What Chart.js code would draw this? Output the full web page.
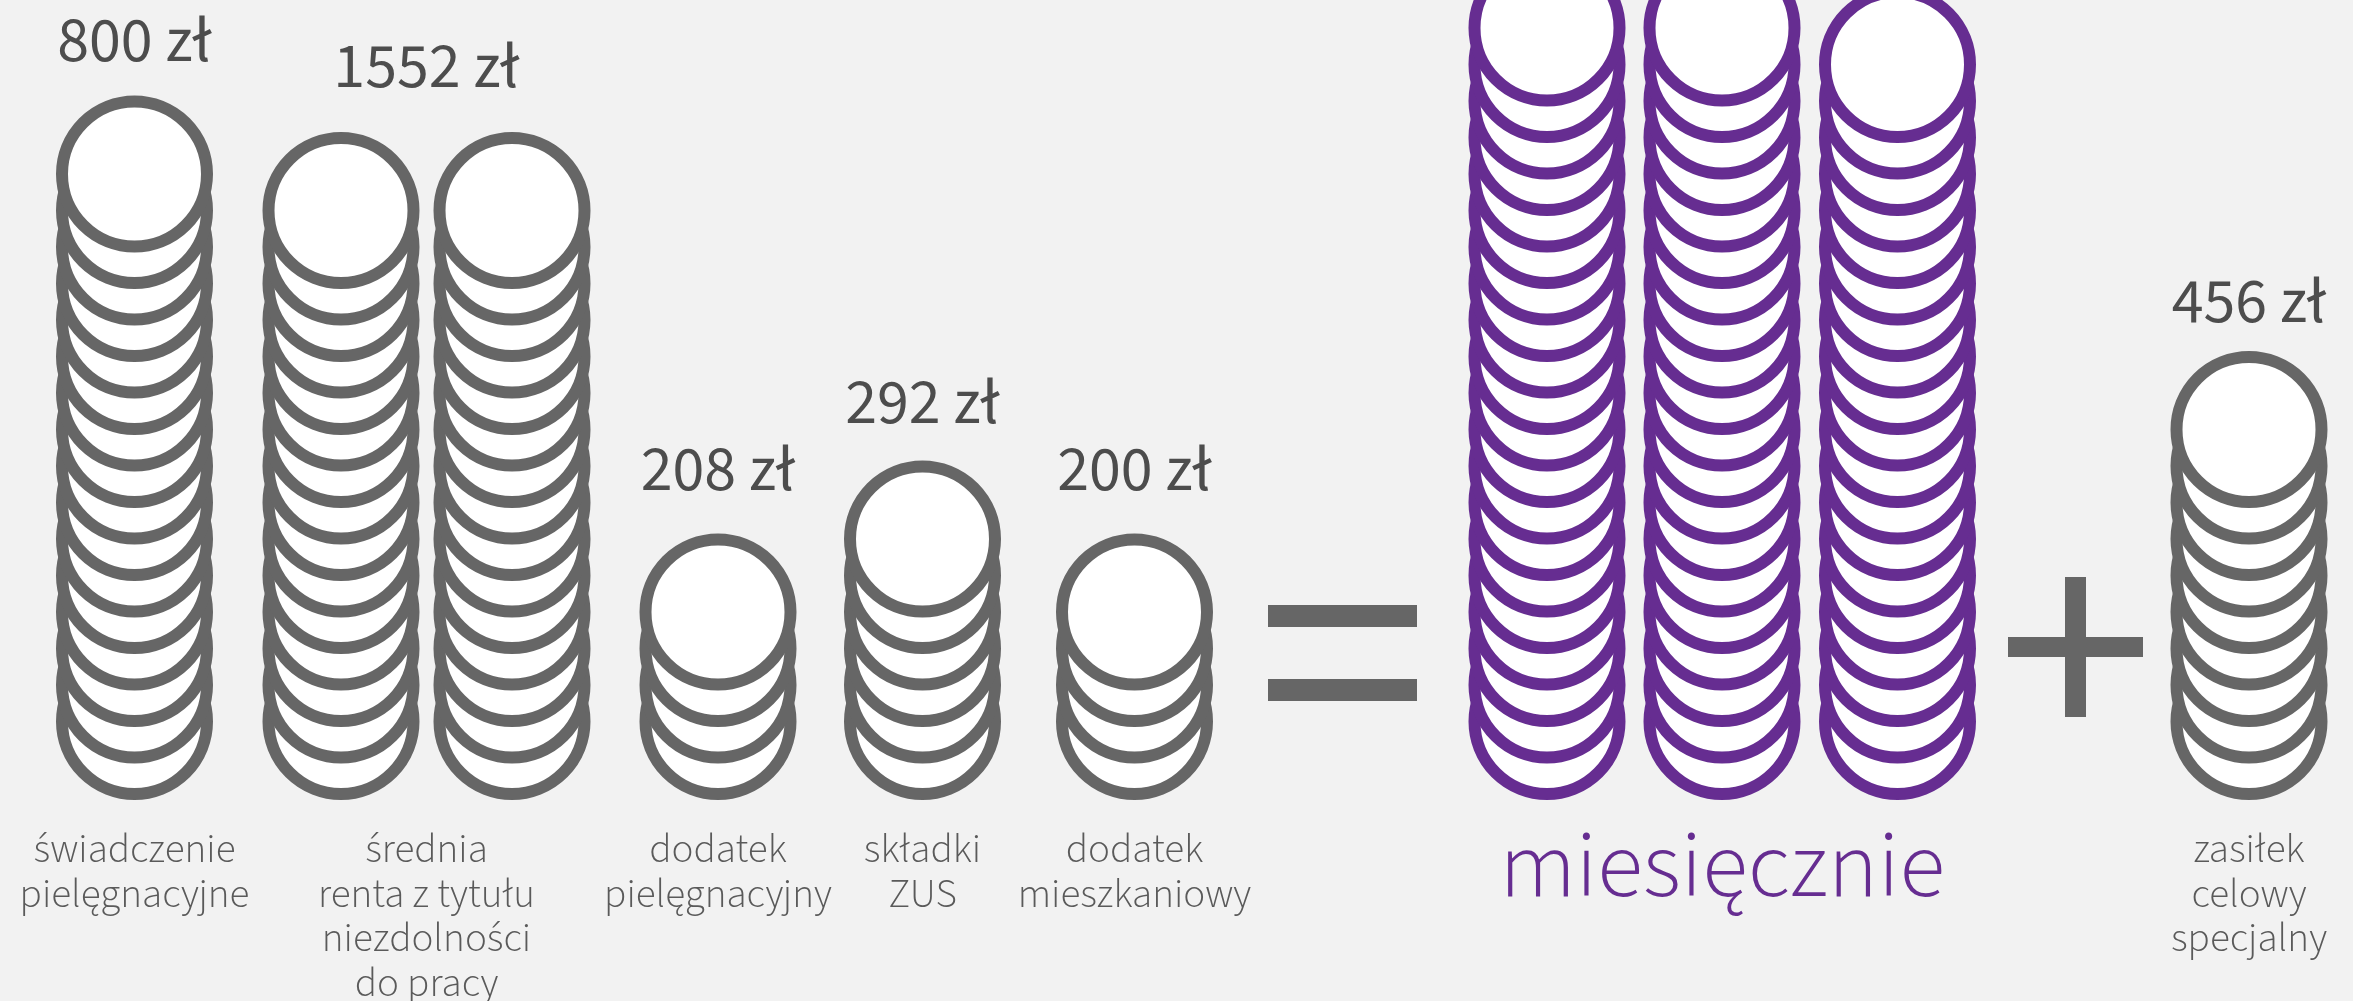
<!DOCTYPE html>
<html>
<head>
<meta charset="utf-8">
<script src="https://cdn.jsdelivr.net/npm/chart.js@4.4.1/dist/chart.umd.min.js"></script>
<style>
	html, body { margin: 0; padding: 0; background: #f2f2f2; }
	#wrap { width: 2353px; height: 1001px; position: relative; }
</style>
</head>
<body>
<div id="wrap"><canvas id="coinChart"></canvas></div>
<script>
// data (1 coin ~ 50 zł)
var categories = ["świadczenie\npielęgnacyjne", "średnia\nrenta z tytułu\nniezdolności\ndo pracy", "dodatek\npielęgnacyjny", "składki\nZUS", "dodatek\nmieszkaniowy", "miesięcznie", "zasiłek\ncelowy\nspecjalny"];
var amounts = [800, 1552, 208, 292, 200, null, 456];
var coinCounts = [[16], [15, 15], [4], [6], [4], [20, 20, 19], [9]];

// layout (pixels on the linear x axis, coin index on the y axis)
var columnX = [[134.5], [341, 512], [718], [922.5], [1134.5], [1547, 1722, 1897.5], [2249]];
var valueGap = [35, 45, 44, 38, 44, 0, 29];
var W = 2353, H = 1001, baseY = 721.5, step = 36.5, coinR = 72.5, coinStroke = 12;

var grey = "#666666", purple = "#662d91";
var fontFamily = "'Source Sans Pro', 'Source Sans 3', Lato, sans-serif";

var datasets = [];
coinCounts.forEach(function (cols, g) {
	cols.forEach(function (n, c) {
		var pts = [];
		for (var i = 0; i < n; i++) pts.push({ x: columnX[g][c], y: i });
		datasets.push({
			data: pts,
			pointRadius: coinR,
			pointHoverRadius: coinR,
			pointBorderWidth: coinStroke,
			pointHoverBorderWidth: coinStroke,
			pointBackgroundColor: "#ffffff",
			pointBorderColor: g === 5 ? purple : grey,
			clip: false
		});
	});
});

var labelPlugin = {
	id: "coinLabels",
	afterDatasetsDraw: function (chart) {
		var ctx = chart.ctx;
		var xs = chart.scales.x, ys = chart.scales.y;
		ctx.save();

		// "=" and "+"
		ctx.fillStyle = grey;
		var eqX = xs.getPixelForValue(1342.5);
		ctx.fillRect(eqX - 74.5, 605, 149, 22);
		ctx.fillRect(eqX - 74.5, 679, 149, 22);
		var plX = xs.getPixelForValue(2075.5);
		ctx.fillRect(plX - 67.5, 637, 135, 20);
		ctx.fillRect(plX - 10.5, 577, 21, 140);

		ctx.textAlign = "center";
		ctx.textBaseline = "alphabetic";
		coinCounts.forEach(function (cols, g) {
			var cx = 0;
			columnX[g].forEach(function (v) { cx += xs.getPixelForValue(v); });
			cx /= columnX[g].length;
			var top = ys.getPixelForValue(Math.max.apply(null, cols) - 1) - coinR - coinStroke / 2;
			var bottom = ys.getPixelForValue(0);

			if (amounts[g] !== null) {
				ctx.font = "400 64px " + fontFamily;
				ctx.fillStyle = "#4d4d4d";
				ctx.fillText(amounts[g] + " zł", cx, top - valueGap[g]);
			}

			var lines = categories[g].split("\n");
			if (g === 5) {
				ctx.font = "300 94px " + fontFamily;
				ctx.fillStyle = purple;
				ctx.fillText(lines[0], cx, bottom + 174.5);
			} else {
				ctx.font = "300 41px " + fontFamily;
				ctx.fillStyle = "#5a5a5a";
				lines.forEach(function (t, i) {
					ctx.fillText(t, cx, bottom + 140.5 + i * 44.5);
				});
			}
		});
		ctx.restore();
	}
};

var myCoinChart = new Chart(document.getElementById("coinChart").getContext("2d"), {
	type: "scatter",
	data: { datasets: datasets },
	plugins: [labelPlugin],
	options: {
		responsive: true,
		maintainAspectRatio: false,
		animation: false,
		events: [],
		layout: { padding: 0, autoPadding: false },
		plugins: { legend: { display: false }, tooltip: { enabled: false } },
		scales: {
			x: { type: "linear", min: 0, max: W, display: false },
			y: { type: "linear", min: -(H - baseY) / step, max: baseY / step, display: false }
		}
	}
});
</script>
</body>
</html>
